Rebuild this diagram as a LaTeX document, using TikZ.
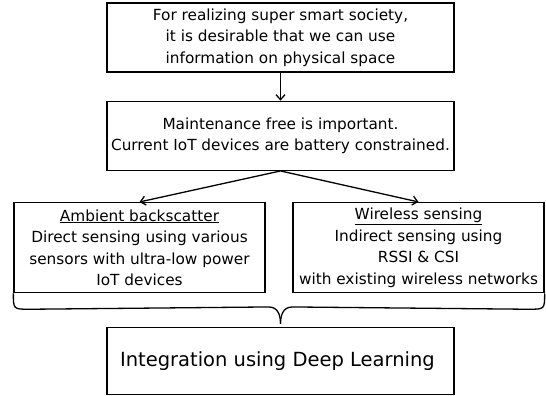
\documentclass[tikz,border=0pt]{standalone}
\usepackage{fontspec}
\setmainfont{DejaVu Sans}
\usepackage{tikz}
\usetikzlibrary{positioning, arrows.meta}

\begin{document}
\begin{tikzpicture}[
  box/.style={rectangle, draw=black, line width=1.3pt, align=center, inner sep=1pt,
    font=\fontsize{15.3}{21.5}\selectfont},
  wide/.style={box, minimum width=347pt, minimum height=69pt},
  side/.style={box, minimum width=251pt, minimum height=90pt},
  flow/.style={-{Straight Barb[length=5pt, width=9pt]}, line width=1.3pt}
]
  \useasboundingbox (0,0) rectangle (546pt,-396pt);

  \node[wide] (need) at (280.5pt,-37.5pt) {
    For realizing super smart society,\\
    it is desirable that we can use\\
    information on physical space
  };

  \node[wide, below=28pt of need] (maint) {
    Maintenance free is important.\\
    Current IoT devices are battery constrained.
  };

  \node[side, below=31pt of maint.south, anchor=north, xshift=-141pt] (amb) {
    \underline{Ambient backscatter}\\
    Direct sensing using various\\
    sensors with ultra-low power\\
    IoT devices
  };

  \node[side, below=31pt of maint.south, anchor=north, xshift=138pt] (wls) {
    \underline{Wireless sensing}\\
    Indirect sensing using\\
    RSSI \& CSI\\
    with existing wireless networks
  };

  \node[wide, below=156pt of maint, minimum height=67pt,
    font=\fontsize{19.5}{24}\selectfont] (integ) {
    Integration using Deep Learning
  };

  \draw[flow] (need) -- (maint);
  \draw[flow] (maint.south) -- (amb.north);
  \draw[flow] (maint.south) -- (wls.north);

  % brace under the two approaches
  \coordinate (tip) at ([yshift=3pt]maint.south |- integ.north);
  \draw[line width=1.3pt]
    (amb.south west) .. controls ([yshift=-16pt]amb.south west)
      .. ([xshift=16pt, yshift=-16pt]amb.south west)
    -- ([xshift=-12pt, yshift=17pt]tip)
    .. controls ([xshift=-2pt, yshift=17pt]tip) and ([yshift=8pt]tip) .. (tip);
  \draw[line width=1.3pt]
    (wls.south east) .. controls ([yshift=-16pt]wls.south east)
      .. ([xshift=-16pt, yshift=-16pt]wls.south east)
    -- ([xshift=12pt, yshift=17pt]tip)
    .. controls ([xshift=2pt, yshift=17pt]tip) and ([yshift=8pt]tip) .. (tip);
\end{tikzpicture}
\end{document}
